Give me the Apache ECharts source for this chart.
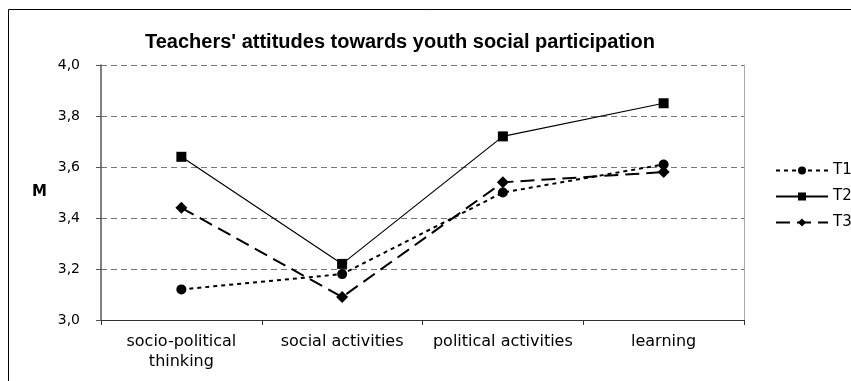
<!DOCTYPE html>
<html>
<head>
<meta charset="utf-8">
<script src="https://cdn.jsdelivr.net/npm/echarts@6/dist/echarts.min.js"></script>
<style>
  html, body { margin: 0; padding: 0; background: #fff; }
  #chart { width: 851px; height: 381px; }
</style>
</head>
<body>
<div id="chart"></div>
<script>
// data
const categories = ['socio-political\nthinking', 'social activities', 'political activities', 'learning'];
const seriesNames = ['T1', 'T2', 'T3'];
const t1 = [3.12, 3.18, 3.50, 3.61];
const t2 = [3.64, 3.22, 3.72, 3.85];
const t3 = [3.44, 3.09, 3.54, 3.58];
const yMin = 3.0;
const yMax = 4.0;
const yStep = 0.2;

const myChart = echarts.init(document.getElementById('chart'));

const labelFont = 'DejaVu Sans';

const option = {
  animation: false,
  backgroundColor: '#fff',
  graphic: [
    {
      type: 'rect',
      shape: { x: 8.5, y: 9.5, width: 900, height: 420 },
      style: { fill: 'none', stroke: '#000', lineWidth: 1 },
      silent: true
    }
  ],
  title: {
    text: "Teachers' attitudes towards youth social participation",
    left: 140,
    top: 27,
    textStyle: {
      fontFamily: 'Liberation Sans',
      fontWeight: 'bold',
      fontSize: 20,
      color: '#000'
    }
  },
  legend: {
    orient: 'vertical',
    left: 770,
    top: 158,
    itemWidth: 52,
    itemHeight: 10,
    itemGap: 11,
    textStyle: { fontFamily: labelFont, fontSize: 15, color: '#000' },
    data: seriesNames
  },
  grid: {
    left: 101,
    right: 107,
    top: 65,
    bottom: 61
  },
  xAxis: {
    type: 'category',
    data: categories,
    boundaryGap: true,
    axisLine: { lineStyle: { color: '#333', width: 1 } },
    axisTick: { show: true, interval: 0, length: 5, lineStyle: { color: '#333' } },
    axisLabel: {
      interval: 0,
      color: '#000',
      fontFamily: labelFont,
      fontSize: 16,
      lineHeight: 20,
      margin: 12
    },
    splitLine: { show: false }
  },
  yAxis: [
    {
      type: 'value',
      min: yMin,
      max: yMax,
      interval: yStep,
      name: 'M',
      nameLocation: 'middle',
      nameRotate: 0,
      nameGap: 54,
      nameTextStyle: { fontFamily: labelFont, fontWeight: 'bold', fontSize: 15, color: '#000' },
      axisLine: { show: true, lineStyle: { color: '#555', width: 1.5 } },
      axisTick: { show: true, length: 5, lineStyle: { color: '#555' } },
      axisLabel: {
        color: '#000',
        fontFamily: labelFont,
        fontSize: 14,
        margin: 21,
        formatter: v => v.toFixed(1).replace('.', ',')
      },
      splitLine: { show: true, lineStyle: { color: '#777', type: [6, 4], width: 1 } }
    },
    {
      // right border of the plot area
      type: 'value',
      position: 'right',
      min: yMin,
      max: yMax,
      interval: yStep,
      axisLine: { show: true, lineStyle: { color: '#aaa', width: 1 } },
      axisTick: { show: false },
      axisLabel: { show: false },
      splitLine: { show: false }
    }
  ],
  series: [
    {
      name: 'T1',
      type: 'line',
      data: t1,
      symbol: 'circle',
      symbolSize: 10,
      itemStyle: { color: '#000' },
      lineStyle: { color: '#000', width: 2, type: [4, 4] }
    },
    {
      name: 'T2',
      type: 'line',
      data: t2,
      symbol: 'rect',
      symbolSize: 10,
      itemStyle: { color: '#000' },
      lineStyle: { color: '#000', width: 1.2, type: 'solid' }
    },
    {
      name: 'T3',
      type: 'line',
      data: t3,
      symbol: 'diamond',
      symbolSize: 12,
      itemStyle: { color: '#000' },
      lineStyle: { color: '#000', width: 2, type: [14, 7] }
    }
  ]
};

myChart.setOption(option);
</script>
</body>
</html>
